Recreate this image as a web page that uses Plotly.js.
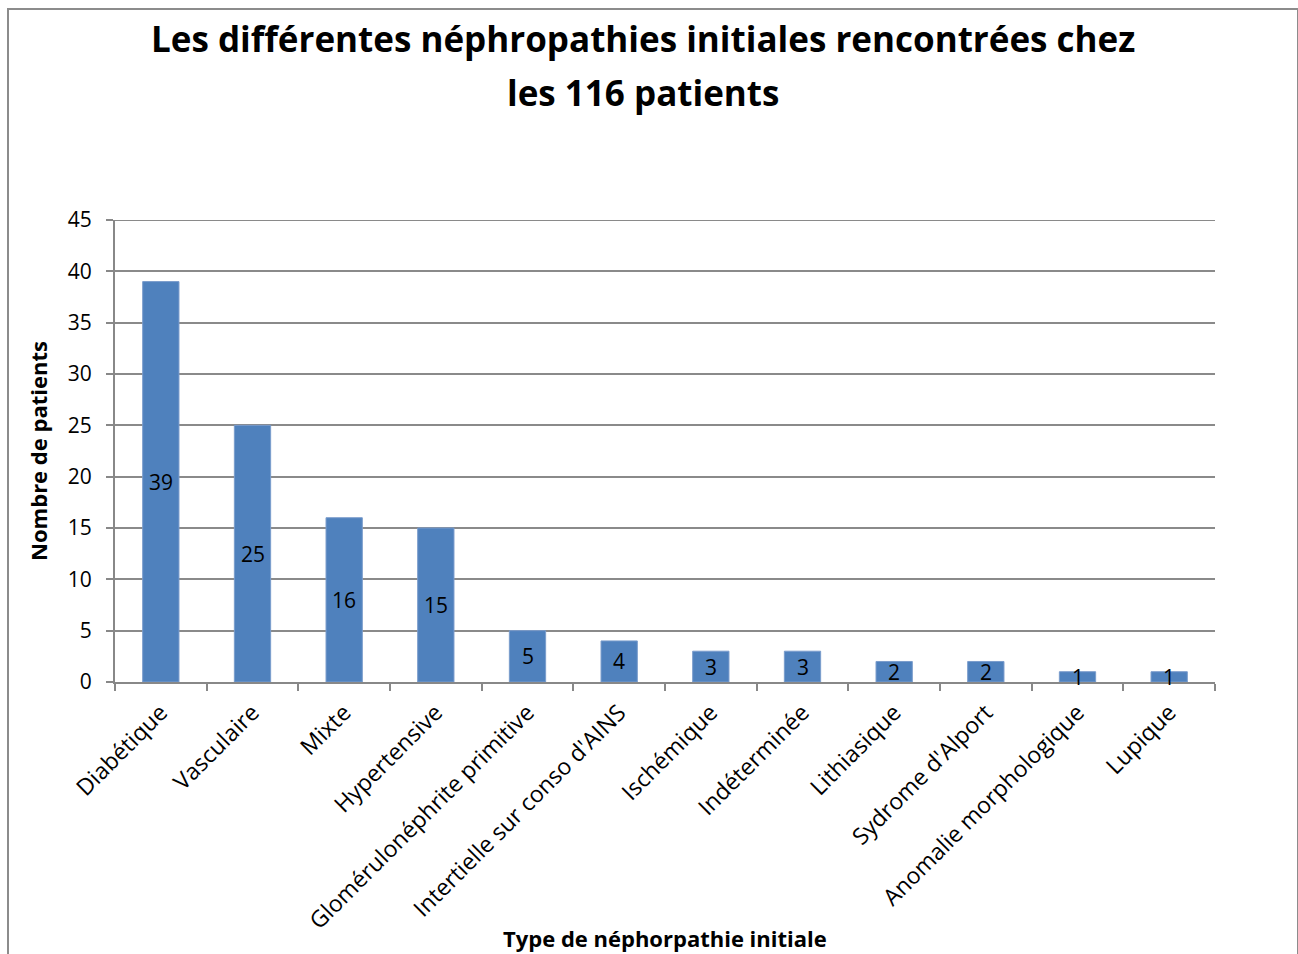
<!DOCTYPE html>
<html>
<head>
<meta charset="utf-8">
<script src="https://cdn.plot.ly/plotly-3.0.1.min.js"></script>
<style>
html,body{margin:0;padding:0;background:#fff;}
#wrap{position:relative;width:1298px;height:954px;overflow:hidden;}
#chart{width:1298px;height:954px;}
#frame{position:absolute;left:7px;top:8px;width:1288px;height:960px;border:2px solid #8c8c8c;pointer-events:none;}
</style>
</head>
<body>
<div id="wrap"><div id="chart"></div><div id="frame"></div></div>
<script>
const categories = ["Diabétique","Vasculaire","Mixte","Hypertensive","Glomérulonéphrite primitive","Intertielle sur conso d'AINS","Ischémique","Indéterminée","Lithiasique","Sydrome d'Alport","Anomalie morphologique","Lupique"];
const patients = [39,25,16,15,5,4,3,3,2,2,1,1];
const yTicks = [0,5,10,15,20,25,30,35,40,45];
const titleLine1 = "Les différentes néphropathies initiales rencontrées chez";
const titleLine2 = "les 116 patients";
const xTitle = "Type de néphorpathie initiale";
const yTitle = "Nombre de patients";

const FONT = "Open Sans, Liberation Sans, sans-serif";

const annotations = categories.map((c,i)=>({
  x: c, y: patients[i]/2, xref:'x', yref:'y',
  text: String(patients[i]), showarrow:false,
  font:{family:FONT,size:21,color:'#000'}
}));
annotations.push({
  x:0.5, y:-0.555, xref:'paper', yref:'paper', text:'<b>'+xTitle+'</b>',
  showarrow:false, font:{family:FONT,size:22,color:'#000'}, yanchor:'middle'
});
annotations.push({
  x:0.48, xref:'paper', y:1.275, yref:'paper', yanchor:'middle',
  text:'<b>'+titleLine2+'</b>', showarrow:false,
  font:{family:FONT,size:35,color:'#000'}
});

const data = [{
  type:'bar', x:categories, y:patients,
  marker:{color:'#4F81BD', line:{color:'#7a9ccc', width:1}},
  hoverinfo:'x+y'
}];

const layout = {
  width:1298, height:954,
  margin:{l:115, r:83, t:220, b:272, pad:0},
  paper_bgcolor:'#fff', plot_bgcolor:'#fff',
  showlegend:false,
  bargap:0.604,
  title:{text:'<b>'+titleLine1+'</b>', font:{family:FONT,size:35,color:'#000'},
         x:0.4955, xanchor:'center', y:(954-40)/954, yanchor:'middle'},
  xaxis:{
    type:'category', tickangle:-45, tickson:'boundaries',
    ticks:'outside', ticklen:7, tickcolor:'#888', tickwidth:2,
    ticklabelstandoff:6,
    showline:true, linecolor:'#888', linewidth:2,
    showgrid:false, automargin:false,
    tickfont:{family:FONT,size:23,color:'#000'}
  },
  yaxis:{
    range:[0,45], tickvals:yTicks, ticktext:yTicks.map(String),
    ticks:'outside', ticklen:7, tickcolor:'#888', tickwidth:2,
    ticklabelstandoff:10,
    showline:true, linecolor:'#888', linewidth:2,
    showgrid:true, gridcolor:'#8a8a8a', gridwidth:2,
    zeroline:false, automargin:false,
    tickfont:{family:FONT,size:21,color:'#000'},
    title:{text:'<b>'+yTitle+'</b>', font:{family:FONT,size:22,color:'#000'}, standoff:14}
  },
  shapes:[{type:'line', xref:'paper', x0:0, x1:1, yref:'y', y0:45, y1:45,
           line:{color:'#8a8a8a', width:2}}],
  annotations:annotations
};
Plotly.newPlot('chart', data, layout, {displayModeBar:false, staticPlot:true});
</script>
</body>
</html>
